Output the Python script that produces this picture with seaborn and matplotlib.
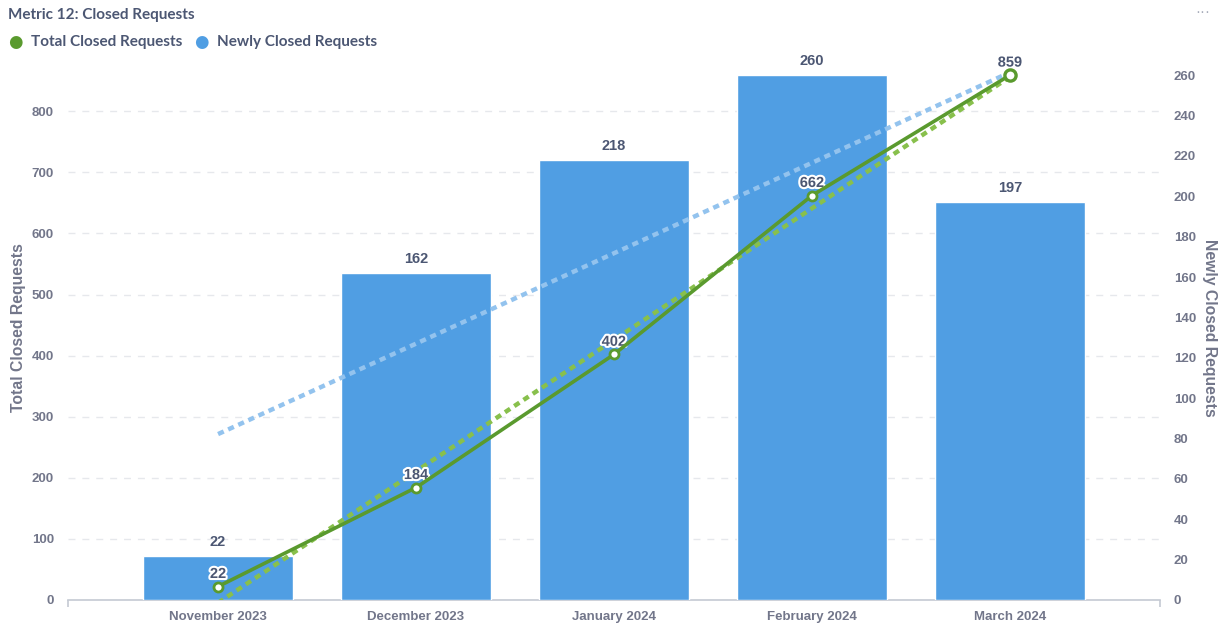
import numpy as np
import pandas as pd
import matplotlib
matplotlib.use("Agg")
import matplotlib.pyplot as plt
import matplotlib.patheffects as pe
import seaborn as sns

# ---- data ----
months = ["November 2023", "December 2023", "January 2024", "February 2024", "March 2024"]
total_closed = [22, 184, 402, 662, 859]
newly_closed = [22, 162, 218, 260, 197]
left_ticks = [0, 100, 200, 300, 400, 500, 600, 700, 800]
right_ticks = [0, 20, 40, 60, 80, 100, 120, 140, 160, 180, 200, 220, 240, 260]

df = pd.DataFrame({"month": months, "idx": np.arange(len(months)),
                   "total": total_closed, "newly": newly_closed})

sns.set_theme(style="white")
plt.rcParams["font.family"] = ["Liberation Sans", "DejaVu Sans"]

BLUE = "#509EE3"
BLUE_TREND = "#93C3EE"
GREEN = "#5A9A2E"
GREEN_TREND = "#88C04C"
TICK_C = "#72768A"
DARK = "#4C5773"

fig = plt.figure(figsize=(12.24, 6.23), dpi=100)
rect = [68 / 1224, 23 / 623, 1092 / 1224, 545 / 623]
ax_grid = fig.add_axes(rect)
ax_bar = ax_grid.twinx()
ax_line = ax_grid.twinx()
ax_grid.set_zorder(0)
ax_bar.set_zorder(1)
ax_line.set_zorder(2)
ax_bar.patch.set_visible(False)
ax_line.patch.set_visible(False)

XLIM = (-0.758, 4.758)
LEFT_MAX = 892
RIGHT_MAX = 270

# bars (right axis)
sns.barplot(data=df, x="idx", y="newly", ax=ax_bar, color=BLUE, saturation=1,
            width=0.755, native_scale=True, zorder=1)
sns.regplot(data=df, x="idx", y="newly", ax=ax_bar, scatter=False, ci=None,
            truncate=True, line_kws=dict(color=BLUE_TREND, lw=3.2,
                                         dashes=(1.4, 1.1), zorder=3))
for i, v in enumerate(newly_closed):
    ax_bar.annotate(str(v), (i, v), xytext=(0, 5), textcoords="offset points",
                    ha="center", va="bottom", fontsize=10.5, fontweight="bold",
                    color=DARK)

# line (left axis)
sns.regplot(data=df, x="idx", y="total", ax=ax_line, scatter=False, ci=None,
            truncate=True, line_kws=dict(color=GREEN_TREND, lw=3.2,
                                         dashes=(1.4, 1.1), zorder=2))
sns.lineplot(data=df, x="idx", y="total", ax=ax_line, color=GREEN, lw=2.6,
             marker="o", markersize=6.5, markerfacecolor="white",
             markeredgecolor=GREEN, markeredgewidth=2, zorder=4)
sns.scatterplot(data=df.iloc[[-1]], x="idx", y="total", ax=ax_line, s=65,
                facecolor="white", edgecolor=GREEN, linewidth=2.4, zorder=5)
for i, v in enumerate(total_closed):
    ax_line.annotate(str(v), (i, v), xytext=(0, 4), textcoords="offset points",
                     ha="center", va="bottom", fontsize=10.5, fontweight="bold",
                     color=DARK,
                     path_effects=[pe.withStroke(linewidth=3, foreground="white")])

# axes setup
for a in (ax_grid, ax_bar, ax_line):
    a.set_xlim(*XLIM)
    for s in a.spines.values():
        s.set_visible(False)
    a.set_xlabel("")

ax_grid.set_ylim(0, LEFT_MAX)
ax_line.set_ylim(0, LEFT_MAX)
ax_bar.set_ylim(0, RIGHT_MAX)

ax_grid.set_yticks(left_ticks)
ax_grid.grid(axis="y", color="#E6E8EC", linestyle=(0, (5, 5)), lw=1)
ax_grid.grid(axis="x", visible=False)
ax_grid.tick_params(axis="y", length=0, pad=10, labelsize=9.5,
                    labelcolor=TICK_C)
for t in ax_grid.get_yticklabels():
    t.set_fontweight("bold")
ax_grid.set_ylabel("Total Closed Requests", fontsize=11.3, fontweight="bold",
                   color=TICK_C, labelpad=4)

ax_grid.spines["bottom"].set_visible(True)
ax_grid.spines["bottom"].set_color("#C5CAD3")
ax_grid.spines["bottom"].set_linewidth(1.2)
ax_grid.set_xticks(df["idx"])
ax_grid.set_xticklabels(months)
ax_grid.set_xticks(list(XLIM), minor=True)
ax_grid.tick_params(axis="x", which="major", length=0, pad=8, labelsize=9.5,
                    labelcolor=TICK_C)
ax_grid.tick_params(axis="x", which="minor", length=5, width=1.2,
                    color="#C5CAD3", bottom=True)
for t in ax_grid.get_xticklabels():
    t.set_fontweight("bold")

ax_bar.set_yticks(right_ticks)
ax_bar.grid(False)
ax_bar.tick_params(axis="y", length=0, pad=10, labelsize=9.5,
                   labelcolor=TICK_C)
for t in ax_bar.get_yticklabels():
    t.set_fontweight("bold")
ax_bar.set_ylabel("Newly Closed Requests", fontsize=11.3, fontweight="bold",
                  color=TICK_C, rotation=270, va="bottom", labelpad=4)
ax_bar.tick_params(axis="x", bottom=False, labelbottom=False)

ax_line.grid(False)
ax_line.tick_params(axis="both", left=False, right=False, bottom=False,
                    labelleft=False, labelright=False, labelbottom=False)
ax_line.set_ylabel("")

# title and legend
fig.text(8 / 1224, 1 - 15 / 623, "Metric 12: Closed Requests", fontsize=11,
         fontweight="bold", color=DARK, family=["Lato", "DejaVu Sans"],
         va="center", ha="left")
fig.text(1 - 14 / 1224, 1 - 12 / 623, "···", fontsize=11, color="#A8ADBB",
         va="center", ha="right")
fig.text(15 / 1224, 1 - 42 / 623, "●", fontsize=12, color=GREEN, va="center",
         ha="center", family=["DejaVu Sans"])
fig.text(31 / 1224, 1 - 42 / 623, "Total Closed Requests", fontsize=11,
         fontweight="bold", color=DARK, family=["Lato", "DejaVu Sans"],
         va="center", ha="left")
fig.text(201 / 1224, 1 - 42 / 623, "●", fontsize=12, color=BLUE, va="center",
         ha="center", family=["DejaVu Sans"])
fig.text(217 / 1224, 1 - 42 / 623, "Newly Closed Requests", fontsize=11,
         fontweight="bold", color=DARK, family=["Lato", "DejaVu Sans"],
         va="center", ha="left")

fig.savefig("out.png", dpi=100)
